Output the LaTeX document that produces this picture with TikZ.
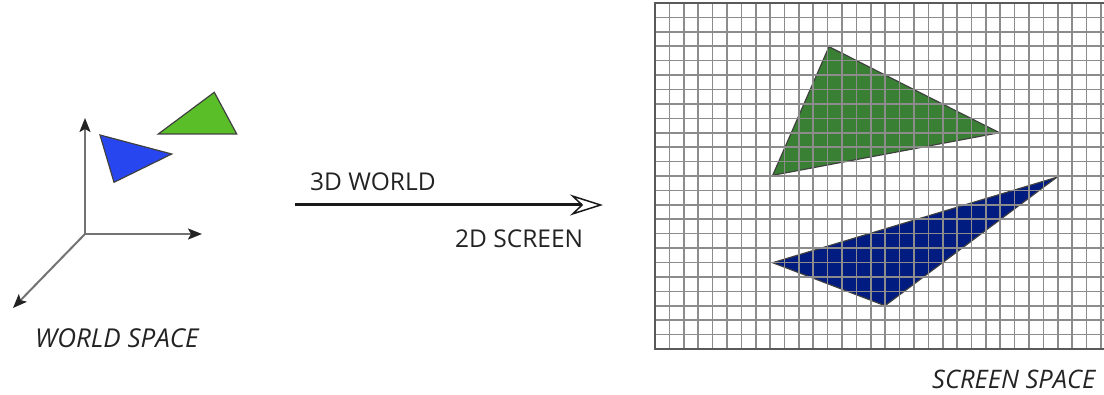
\documentclass[tikz,border=0pt]{standalone}
\usepackage{fontspec}
\setmainfont{Open Sans}
\usetikzlibrary{arrows.meta}
\definecolor{axisgray}{RGB}{115,115,115}
\definecolor{tipgray}{RGB}{35,35,35}
\definecolor{txtgray}{RGB}{35,35,35}
\definecolor{gridgray}{RGB}{140,140,140}
\definecolor{lblue}{RGB}{40,70,240}
\definecolor{lgreen}{RGB}{90,190,40}
\definecolor{sgreen}{RGB}{58,128,52}
\definecolor{sblue}{RGB}{0,28,128}
\tikzset{
  axis/.style={draw=axisgray, line width=2pt, -{Stealth[length=14pt,width=11pt,inset=3pt,color=tipgray]}},
  tri/.style={draw=black!75, line width=1.2pt, line join=miter},
  gridline/.style={draw=gridgray, line width=1.6pt},
  border/.style={draw=black!65, line width=2.2pt},
  lbl/.style={text=txtgray, font=\fontsize{24.5}{24.5}\selectfont, inner sep=0pt},
  ilbl/.style={lbl, font=\fontsize{26}{26}\selectfont\itshape},
  bigarrow/.style={draw=black!90, line width=3pt, -{Stealth[open, length=33pt, width=21pt, inset=11pt, line width=1.5pt]}}
}
\begin{document}
\begin{tikzpicture}[x=1pt,y=-1pt]
\useasboundingbox (0,0) rectangle (1104,395);
% ---- world space ----
\coordinate (o) at (85,234);
\coordinate (yup) at (85,118);
\coordinate (xr) at (202,234);
\coordinate (zd) at (13,308);
\draw[axis] (o) -- (yup);
\draw[axis] (o) -- (xr);
\draw[axis] (o) -- (zd);
\filldraw[tri, fill=lblue] (100,135) -- (171.7,154) -- (114,182.3) -- cycle;
\filldraw[tri, fill=lgreen] (214.3,92.3) -- (236.7,134) -- (158.3,134) -- cycle;
\node[ilbl, anchor=base west] (ws) at (35,348) {WORLD SPACE};
% ---- transform arrow ----
\coordinate (a1) at (295,205);
\coordinate (a2) at (603,205);
\draw[bigarrow] (a1) -- (a2);
\node[lbl, anchor=base west] (w3) at (310,191) {3D WORLD};
\node[lbl, anchor=base west] (s2) at (455,248) {2D SCREEN};
% ---- screen space ----
\fill[white] (655,3) rectangle (1104,349);
\filldraw[tri, fill=sgreen] (829,46.7) -- (999.3,132.7) -- (772.7,175.3) -- cycle;
\filldraw[tri, fill=sblue] (1056.7,177.3) -- (885,305.7) -- (772.7,262.7) -- cycle;
\foreach \i in {0,...,31} {
  \draw[gridline] ({655+\i*14.387},3) -- ({655+\i*14.387},349);
}
\foreach \j in {0,...,24} {
  \draw[gridline] (655,{3+\j*14.417}) -- (1104,{3+\j*14.417});
}
\draw[border] (1104,3) -- (655,3) -- (655,349) -- (1104,349);
\node[lbl, font=\fontsize{25.5}{25.5}\selectfont\itshape, anchor=base west] (ss) at (932,389) {SCREEN SPACE};
\end{tikzpicture}
\end{document}
